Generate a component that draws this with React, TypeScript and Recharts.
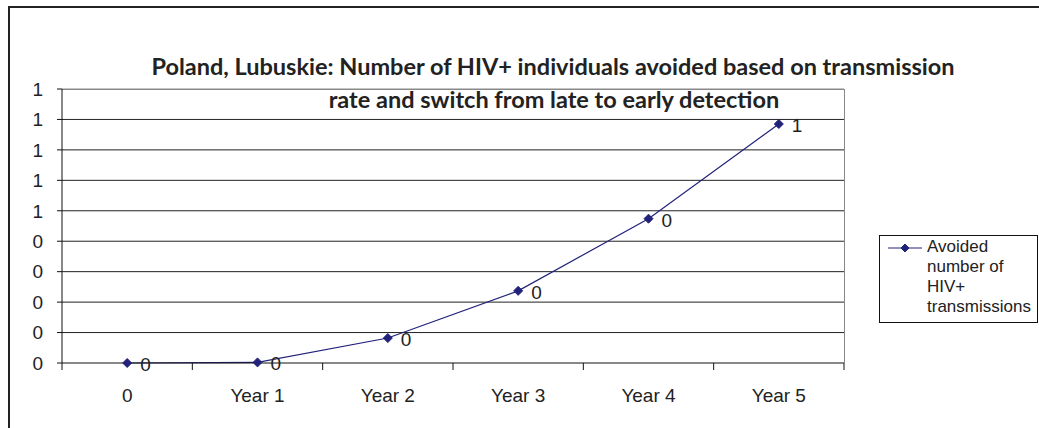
import React from 'react';
import { LineChart, Line, XAxis, YAxis, CartesianGrid, LabelList, ReferenceLine } from 'recharts';

const categories = ['0', 'Year 1', 'Year 2', 'Year 3', 'Year 4', 'Year 5'];
const avoided = [0, 0.002, 0.082, 0.237, 0.474, 0.785];
const yTicks = [0, 0.1, 0.2, 0.3, 0.4, 0.5, 0.6, 0.7, 0.8, 0.9];
const seriesName = ['Avoided', 'number of', 'HIV+', 'transmissions'];

const data = categories.map((name, i) => ({ name, avoided: avoided[i] }));

const W = 1039;
const H = 428;
const PLOT_LEFT = 62;
const PLOT_RIGHT = 844;
const PLOT_TOP = 89;
const PLOT_BOTTOM = 363;
const HALF_STEP = (PLOT_RIGHT - PLOT_LEFT) / categories.length / 2;
const NAVY = '#22227a';
const TEXT = '#222';
const FONT = '"Liberation Sans", Arial, sans-serif';
const TITLE_FONT = 'Lato, sans-serif';

const Diamond = ({ cx, cy, size = 4.5 }: any) => {
  if (cx == null || cy == null) return null;
  return (
    <polygon
      points={`${cx},${cy - size} ${cx + size},${cy} ${cx},${cy + size} ${cx - size},${cy}`}
      fill={NAVY}
      stroke={NAVY}
    />
  );
};

const XTick = ({ x, payload, index }: any) => {
  const last = index === categories.length - 1;
  return (
    <g>
      <line x1={x - HALF_STEP} y1={PLOT_BOTTOM} x2={x - HALF_STEP} y2={PLOT_BOTTOM + 7} stroke="#111" />
      {last && <line x1={x + HALF_STEP} y1={PLOT_BOTTOM} x2={x + HALF_STEP} y2={PLOT_BOTTOM + 7} stroke="#111" />}
      <text x={x} y={PLOT_BOTTOM + 39} textAnchor="middle" fontSize={19} fill={TEXT} fontFamily={FONT}>
        {payload.value}
      </text>
    </g>
  );
};

const PointLabel = ({ x, y, value }: any) => (
  <text x={x + 13} y={y + 8} fontSize={19} fill={TEXT} fontFamily={FONT}>
    {Math.round(value)}
  </text>
);

const LegendBox = () => (
  <div
    style={{
      position: 'absolute',
      left: 879,
      top: 235,
      width: 157,
      height: 86,
      border: '1px solid #111',
      background: '#fff',
      fontFamily: FONT,
      fontSize: 17,
      color: TEXT,
    }}
  >
    <svg width={36} height={14} style={{ position: 'absolute', left: 8, top: 5 }}>
      <line x1={0} y1={7} x2={34} y2={7} stroke={NAVY} />
      <Diamond cx={17} cy={7} size={4} />
    </svg>
    <div style={{ position: 'absolute', left: 47, top: 1, lineHeight: '20px', whiteSpace: 'nowrap' }}>
      {seriesName.map((s) => (
        <div key={s}>{s}</div>
      ))}
    </div>
  </div>
);

export default function App() {
  return (
    <div style={{ position: 'absolute', left: 0, top: 0, width: W, height: H, overflow: 'hidden', background: '#fff' }}>
      <div
        style={{
          position: 'absolute',
          left: 8,
          top: 6,
          width: W + 20,
          height: H + 20,
          border: '2px solid #222',
          boxSizing: 'border-box',
        }}
      />
      <div
        style={{
          position: 'absolute',
          left: PLOT_LEFT,
          top: PLOT_TOP,
          width: PLOT_RIGHT - PLOT_LEFT + 1,
          height: PLOT_BOTTOM - PLOT_TOP,
          borderTop: '1px solid #888',
          borderRight: '1px solid #888',
          boxSizing: 'border-box',
        }}
      />
      <div style={{ position: 'absolute', left: 0, top: 0 }}>
        <LineChart
          width={W}
          height={H}
          data={data}
          margin={{ top: PLOT_TOP, right: W - PLOT_RIGHT, bottom: 0, left: 0 }}
        >
          <text x={553} y={75} textAnchor="middle" fontSize={23.5} fontWeight="bold" fill={TEXT} fontFamily={TITLE_FONT}>
            Poland, Lubuskie: Number of HIV+ individuals avoided based on transmission
          </text>
          <text x={554} y={108} textAnchor="middle" fontSize={23.5} fontWeight="bold" fill={TEXT} fontFamily={TITLE_FONT}>
            rate and switch from late to early detection
          </text>
          <CartesianGrid vertical={false} horizontalValues={yTicks.slice(1, -1)} stroke="#222" />
          <XAxis
            dataKey="name"
            type="category"
            height={H - PLOT_BOTTOM}
            padding={{ left: HALF_STEP, right: HALF_STEP }}
            axisLine={{ stroke: '#111' }}
            tickLine={false}
            tick={<XTick />}
            interval={0}
          />
          <YAxis
            width={PLOT_LEFT}
            domain={[0, 0.9]}
            ticks={yTicks}
            interval={0}
            tickFormatter={(v: number) => String(Math.round(v))}
            axisLine={{ stroke: '#111' }}
            tickLine={{ stroke: '#111' }}
            tickSize={5}
            tickMargin={14}
            tick={{ fontSize: 19, fill: TEXT, fontFamily: FONT }}
          />
          <ReferenceLine y={0.9} stroke="#888" />
          <Line
            type="linear"
            dataKey="avoided"
            name="Avoided number of HIV+ transmissions"
            stroke={NAVY}
            strokeWidth={1.2}
            dot={<Diamond />}
            activeDot={false}
            isAnimationActive={false}
          >
            <LabelList dataKey="avoided" content={<PointLabel />} />
          </Line>
        </LineChart>
      </div>
      <LegendBox />
    </div>
  );
}
